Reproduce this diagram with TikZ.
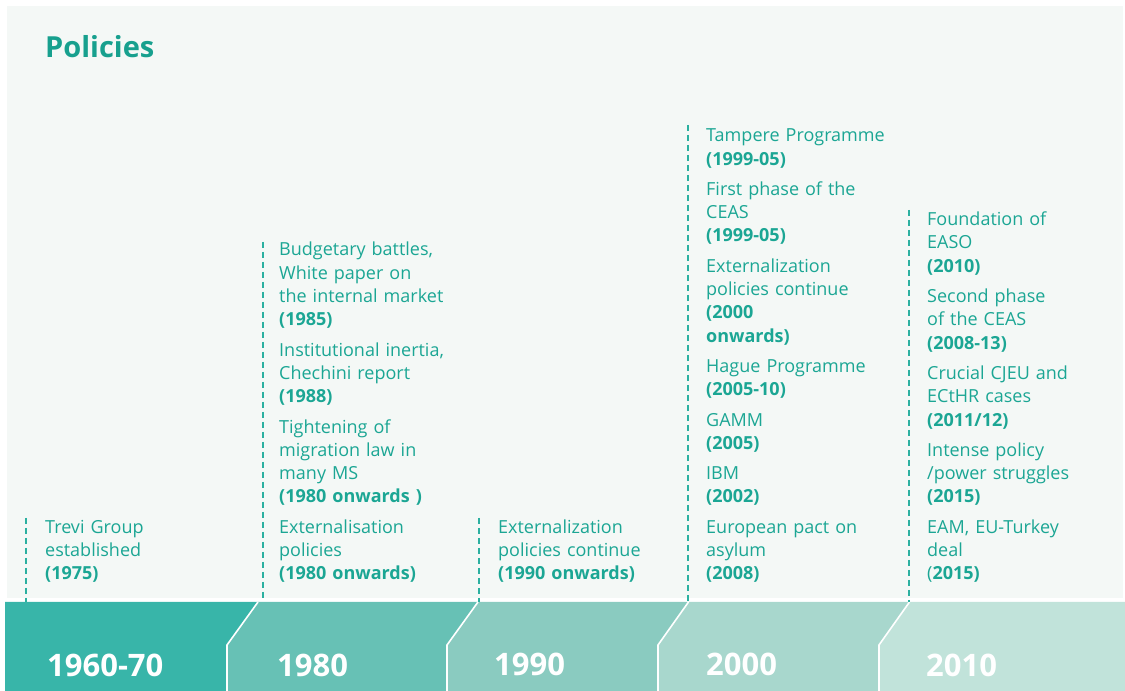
\documentclass[tikz,border=0pt]{standalone}
\usepackage{fontspec}
\setmainfont{Open Sans}
\usetikzlibrary{positioning}

\definecolor{polText}{HTML}{1BA694}
\definecolor{polTitle}{HTML}{17A08E}
\definecolor{polDash}{HTML}{2BB0A0}
\definecolor{polPanel}{HTML}{F4F8F6}
\definecolor{bandA}{HTML}{38B5A9}
\definecolor{bandB}{HTML}{67C1B5}
\definecolor{bandC}{HTML}{8ACBC0}
\definecolor{bandD}{HTML}{A8D7CD}
\definecolor{bandE}{HTML}{C1E3DA}

\tikzset{
  entry/.style={align=left, text width=210pt, inner sep=0pt, text=polText,
    font=\fontsize{18}{23.3}\selectfont,
    execute at begin node=\strut, execute at end node=\strut},
  yearlbl/.style={anchor=base west, inner sep=0pt, text=white,
    font=\fontsize{31}{36}\selectfont\bfseries},
  guide/.style={polDash, line width=2pt, dash pattern=on 6.5pt off 3.5pt},
  divider/.style={white, line width=1.6pt}
}

\begin{document}
\begin{tikzpicture}[x=1pt,y=1pt]
  \useasboundingbox (0,0) rectangle (1125,691);
  % panel and title
  \fill[polPanel] (7,93) rectangle (1123,685);
  \node[anchor=base west, inner sep=0pt, text=polTitle,
    font=\fontsize{29}{34}\selectfont\bfseries] (title) at (45,633.7) {Policies};

  % time band
  \foreach \tl/\bl/\tr/\br/\col in {5/5/258/227/bandA, 258/227/478/447/bandB,
      478/447/688.5/658/bandC, 688.5/658/909.5/879/bandD, 909.5/879/1125/1125/bandE}
    \fill[\col] (\bl,0) -- (\bl,46) -- (\tl,89) -- (\tr,89) -- (\br,46) -- (\br,0) -- cycle;
  \foreach \t/\b in {258/227, 478/447, 688.5/658, 909.5/879}
    \draw[divider] (\t,89) -- (\b,46) -- (\b,0);

  \node[yearlbl] (y60) at (47,14) {1960-70};
  \node[yearlbl] (y80) at (277,14) {1980};
  \node[yearlbl] (y90) at (494,15) {1990};
  \node[yearlbl] (y00) at (706,16) {2000};
  \node[yearlbl] (y10) at (926,14) {2010};

  % dashed guides
  \foreach \x/\top [count=\i] in {26/173, 263/449, 478.5/173, 688/566, 909/481}{
    \coordinate (gtop\i) at (\x,\top);
    \coordinate (gbot\i) at (\x,89);
    \draw[guide] (gtop\i) -- (gbot\i);
  }

  % 1960-70
  \node[entry, anchor=south west] (trevi) at (45,104)
    {Trevi Group\\established\\\textbf{(1975)}};

  % 1980
  \node[entry, anchor=south west] (extern) at (279,104)
    {Externalisation\\policies\\\textbf{(1980 onwards)}};
  \node[entry, above=6.6pt of extern.north west, anchor=south west] (tighten)
    {Tightening of\\migration law in\\many MS\\\textbf{(1980 onwards )}};
  \node[entry, above=6.6pt of tighten.north west, anchor=south west] (inertia)
    {Institutional inertia,\\Chechini report\\\textbf{(1988)}};
  \node[entry, above=6.6pt of inertia.north west, anchor=south west] (budget)
    {Budgetary battles,\\White paper on\\the internal market\\\textbf{(1985)}};

  % 1990
  \node[entry, anchor=south west] (externB) at (498,104)
    {Externalization\\policies continue\\\textbf{(1990 onwards)}};

  % 2000
  \node[entry, anchor=south west] (pact) at (706,104)
    {European pact on\\asylum\\\textbf{(2008)}};
  \node[entry, above=6.6pt of pact.north west, anchor=south west] (ibm)
    {IBM\\\textbf{(2002)}};
  \node[entry, above=6.6pt of ibm.north west, anchor=south west] (gamm)
    {GAMM\\\textbf{(2005)}};
  \node[entry, above=6.6pt of gamm.north west, anchor=south west] (hague)
    {Hague Programme\\\textbf{(2005-10)}};
  \node[entry, above=6.6pt of hague.north west, anchor=south west] (externC)
    {Externalization\\policies continue\\\textbf{(2000}\\\textbf{onwards)}};
  \node[entry, above=6.6pt of externC.north west, anchor=south west] (ceasA)
    {First phase of the\\CEAS\\\textbf{(1999-05)}};
  \node[entry, above=6.6pt of ceasA.north west, anchor=south west] (tampere)
    {Tampere Programme\\\textbf{(1999-05)}};

  % 2010
  \node[entry, anchor=south west] (eam) at (927,104)
    {EAM, EU-Turkey\\deal\\(\textbf{2015)}};
  \node[entry, above=6.6pt of eam.north west, anchor=south west] (struggle)
    {Intense policy\\/power struggles\\\textbf{(2015)}};
  \node[entry, above=6.6pt of struggle.north west, anchor=south west] (cjeu)
    {Crucial CJEU and\\ECtHR cases\\\textbf{(2011/12)}};
  \node[entry, above=6.6pt of cjeu.north west, anchor=south west] (ceasB)
    {Second phase\\of the CEAS\\\textbf{(2008-13)}};
  \node[entry, above=6.6pt of ceasB.north west, anchor=south west] (easo)
    {Foundation of\\EASO\\\textbf{(2010)}};
\end{tikzpicture}
\end{document}
